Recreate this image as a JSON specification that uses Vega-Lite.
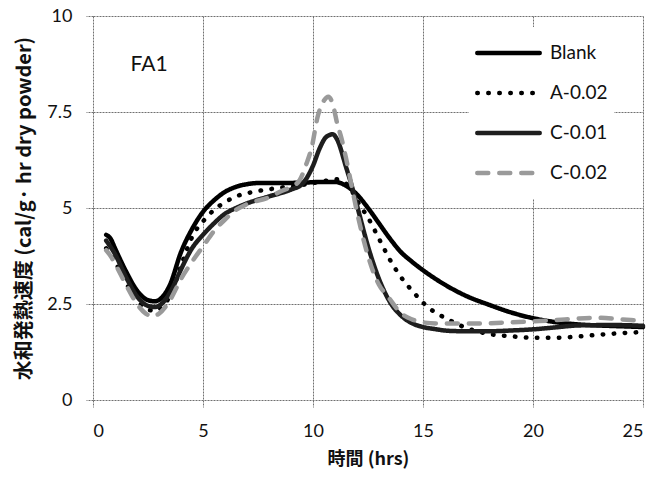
{
  "$schema": "https://vega.github.io/schema/vega-lite/v6.json",
  "width": 550,
  "height": 384,
  "autosize": {"type": "none"},
  "padding": {"left": 93, "top": 16, "right": 22, "bottom": 78},
  "background": "white",
  "config": {
    "view": {"stroke": null},
    "axis": {
      "grid": true,
      "gridColor": "#707070",
      "gridWidth": 1,
      "gridDash": [2, 1],
      "domain": false,
      "ticks": true,
      "tickColor": "#707070",
      "tickDash": [2, 1],
      "tickSize": 7,
      "labelFont": "Lato",
      "labelFontSize": 18,
      "labelColor": "#111111",
      "titleFont": "Noto Sans CJK JP",
      "titleFontWeight": "bold",
      "titleColor": "#111111"
    }
  },
  "layer": [
    {
      "data": {
        "values": [
          {"series": "Blank", "time": 0.6, "rate": 4.3},
          {"series": "Blank", "time": 0.8, "rate": 4.2},
          {"series": "Blank", "time": 1.0, "rate": 3.95},
          {"series": "Blank", "time": 1.5, "rate": 3.35},
          {"series": "Blank", "time": 2.0, "rate": 2.85},
          {"series": "Blank", "time": 2.5, "rate": 2.6},
          {"series": "Blank", "time": 2.8, "rate": 2.57},
          {"series": "Blank", "time": 3.1, "rate": 2.65},
          {"series": "Blank", "time": 3.5, "rate": 3.0},
          {"series": "Blank", "time": 4.0, "rate": 3.85},
          {"series": "Blank", "time": 4.5, "rate": 4.45},
          {"series": "Blank", "time": 5.0, "rate": 4.9},
          {"series": "Blank", "time": 5.5, "rate": 5.2},
          {"series": "Blank", "time": 6.0, "rate": 5.42},
          {"series": "Blank", "time": 6.5, "rate": 5.55},
          {"series": "Blank", "time": 7.0, "rate": 5.62},
          {"series": "Blank", "time": 7.5, "rate": 5.65},
          {"series": "Blank", "time": 8.5, "rate": 5.65},
          {"series": "Blank", "time": 9.5, "rate": 5.66},
          {"series": "Blank", "time": 10.5, "rate": 5.68},
          {"series": "Blank", "time": 11.0, "rate": 5.68},
          {"series": "Blank", "time": 11.5, "rate": 5.58},
          {"series": "Blank", "time": 12.0, "rate": 5.35},
          {"series": "Blank", "time": 12.5, "rate": 5.0},
          {"series": "Blank", "time": 13.0, "rate": 4.6},
          {"series": "Blank", "time": 13.5, "rate": 4.2},
          {"series": "Blank", "time": 14.0, "rate": 3.85},
          {"series": "Blank", "time": 14.5, "rate": 3.6},
          {"series": "Blank", "time": 15.0, "rate": 3.38},
          {"series": "Blank", "time": 16.0, "rate": 3.0},
          {"series": "Blank", "time": 17.0, "rate": 2.7},
          {"series": "Blank", "time": 18.0, "rate": 2.48},
          {"series": "Blank", "time": 19.0, "rate": 2.28},
          {"series": "Blank", "time": 20.0, "rate": 2.13},
          {"series": "Blank", "time": 21.0, "rate": 2.03},
          {"series": "Blank", "time": 22.0, "rate": 1.97},
          {"series": "Blank", "time": 23.0, "rate": 1.94},
          {"series": "Blank", "time": 24.0, "rate": 1.92},
          {"series": "Blank", "time": 25.0, "rate": 1.9},

          {"series": "A-0.02", "time": 0.6, "rate": 3.95},
          {"series": "A-0.02", "time": 1.0, "rate": 3.6},
          {"series": "A-0.02", "time": 1.5, "rate": 3.05},
          {"series": "A-0.02", "time": 2.0, "rate": 2.6},
          {"series": "A-0.02", "time": 2.5, "rate": 2.36},
          {"series": "A-0.02", "time": 2.8, "rate": 2.32},
          {"series": "A-0.02", "time": 3.2, "rate": 2.45},
          {"series": "A-0.02", "time": 3.6, "rate": 2.85},
          {"series": "A-0.02", "time": 4.0, "rate": 3.5},
          {"series": "A-0.02", "time": 4.6, "rate": 4.35},
          {"series": "A-0.02", "time": 5.0, "rate": 4.65},
          {"series": "A-0.02", "time": 5.5, "rate": 4.95},
          {"series": "A-0.02", "time": 6.0, "rate": 5.15},
          {"series": "A-0.02", "time": 6.5, "rate": 5.3},
          {"series": "A-0.02", "time": 7.3, "rate": 5.42},
          {"series": "A-0.02", "time": 8.4, "rate": 5.52},
          {"series": "A-0.02", "time": 9.5, "rate": 5.6},
          {"series": "A-0.02", "time": 10.5, "rate": 5.7},
          {"series": "A-0.02", "time": 11.0, "rate": 5.75},
          {"series": "A-0.02", "time": 11.3, "rate": 5.72},
          {"series": "A-0.02", "time": 11.7, "rate": 5.5},
          {"series": "A-0.02", "time": 12.1, "rate": 5.1},
          {"series": "A-0.02", "time": 12.5, "rate": 4.75},
          {"series": "A-0.02", "time": 13.0, "rate": 4.2},
          {"series": "A-0.02", "time": 13.5, "rate": 3.65},
          {"series": "A-0.02", "time": 14.0, "rate": 3.2},
          {"series": "A-0.02", "time": 14.5, "rate": 2.85},
          {"series": "A-0.02", "time": 15.2, "rate": 2.43},
          {"series": "A-0.02", "time": 16.2, "rate": 2.08},
          {"series": "A-0.02", "time": 17.0, "rate": 1.87},
          {"series": "A-0.02", "time": 18.0, "rate": 1.72},
          {"series": "A-0.02", "time": 19.0, "rate": 1.66},
          {"series": "A-0.02", "time": 20.0, "rate": 1.62},
          {"series": "A-0.02", "time": 21.0, "rate": 1.62},
          {"series": "A-0.02", "time": 22.0, "rate": 1.65},
          {"series": "A-0.02", "time": 23.0, "rate": 1.7},
          {"series": "A-0.02", "time": 24.0, "rate": 1.74},
          {"series": "A-0.02", "time": 25.0, "rate": 1.77},

          {"series": "C-0.01", "time": 0.6, "rate": 4.15},
          {"series": "C-0.01", "time": 1.0, "rate": 3.8},
          {"series": "C-0.01", "time": 1.5, "rate": 3.2},
          {"series": "C-0.01", "time": 2.0, "rate": 2.7},
          {"series": "C-0.01", "time": 2.5, "rate": 2.45},
          {"series": "C-0.01", "time": 2.8, "rate": 2.42},
          {"series": "C-0.01", "time": 3.2, "rate": 2.55},
          {"series": "C-0.01", "time": 3.6, "rate": 2.9},
          {"series": "C-0.01", "time": 4.0, "rate": 3.4},
          {"series": "C-0.01", "time": 4.5, "rate": 3.95},
          {"series": "C-0.01", "time": 5.0, "rate": 4.3},
          {"series": "C-0.01", "time": 5.5, "rate": 4.6},
          {"series": "C-0.01", "time": 6.0, "rate": 4.85},
          {"series": "C-0.01", "time": 6.5, "rate": 5.0},
          {"series": "C-0.01", "time": 7.0, "rate": 5.12},
          {"series": "C-0.01", "time": 8.0, "rate": 5.3},
          {"series": "C-0.01", "time": 9.0, "rate": 5.48},
          {"series": "C-0.01", "time": 9.5, "rate": 5.62},
          {"series": "C-0.01", "time": 10.0, "rate": 6.1},
          {"series": "C-0.01", "time": 10.3, "rate": 6.55},
          {"series": "C-0.01", "time": 10.6, "rate": 6.85},
          {"series": "C-0.01", "time": 10.9, "rate": 6.92},
          {"series": "C-0.01", "time": 11.1, "rate": 6.78},
          {"series": "C-0.01", "time": 11.5, "rate": 6.07},
          {"series": "C-0.01", "time": 11.8, "rate": 5.5},
          {"series": "C-0.01", "time": 12.1, "rate": 4.85},
          {"series": "C-0.01", "time": 12.5, "rate": 4.0},
          {"series": "C-0.01", "time": 13.0, "rate": 3.15},
          {"series": "C-0.01", "time": 13.5, "rate": 2.55},
          {"series": "C-0.01", "time": 14.0, "rate": 2.2},
          {"series": "C-0.01", "time": 14.5, "rate": 2.0},
          {"series": "C-0.01", "time": 15.0, "rate": 1.9},
          {"series": "C-0.01", "time": 15.5, "rate": 1.85},
          {"series": "C-0.01", "time": 16.2, "rate": 1.8},
          {"series": "C-0.01", "time": 17.0, "rate": 1.79},
          {"series": "C-0.01", "time": 18.0, "rate": 1.79},
          {"series": "C-0.01", "time": 19.0, "rate": 1.81},
          {"series": "C-0.01", "time": 20.0, "rate": 1.84},
          {"series": "C-0.01", "time": 21.0, "rate": 1.89},
          {"series": "C-0.01", "time": 22.0, "rate": 1.94},
          {"series": "C-0.01", "time": 23.0, "rate": 1.95},
          {"series": "C-0.01", "time": 24.0, "rate": 1.95},
          {"series": "C-0.01", "time": 25.0, "rate": 1.93},

          {"series": "C-0.02", "time": 0.6, "rate": 3.9},
          {"series": "C-0.02", "time": 0.8, "rate": 3.75},
          {"series": "C-0.02", "time": 1.0, "rate": 3.55},
          {"series": "C-0.02", "time": 1.5, "rate": 3.0},
          {"series": "C-0.02", "time": 2.0, "rate": 2.5},
          {"series": "C-0.02", "time": 2.4, "rate": 2.25},
          {"series": "C-0.02", "time": 2.7, "rate": 2.18},
          {"series": "C-0.02", "time": 3.0, "rate": 2.25},
          {"series": "C-0.02", "time": 3.5, "rate": 2.6},
          {"series": "C-0.02", "time": 4.0, "rate": 3.15},
          {"series": "C-0.02", "time": 4.5, "rate": 3.6},
          {"series": "C-0.02", "time": 5.0, "rate": 4.0},
          {"series": "C-0.02", "time": 5.5, "rate": 4.4},
          {"series": "C-0.02", "time": 6.0, "rate": 4.7},
          {"series": "C-0.02", "time": 6.5, "rate": 4.95},
          {"series": "C-0.02", "time": 7.0, "rate": 5.1},
          {"series": "C-0.02", "time": 8.0, "rate": 5.28},
          {"series": "C-0.02", "time": 8.6, "rate": 5.45},
          {"series": "C-0.02", "time": 9.0, "rate": 5.55},
          {"series": "C-0.02", "time": 9.4, "rate": 5.73},
          {"series": "C-0.02", "time": 9.7, "rate": 6.15},
          {"series": "C-0.02", "time": 9.95, "rate": 6.6},
          {"series": "C-0.02", "time": 10.2, "rate": 7.35},
          {"series": "C-0.02", "time": 10.5, "rate": 7.8},
          {"series": "C-0.02", "time": 10.7, "rate": 7.9},
          {"series": "C-0.02", "time": 10.9, "rate": 7.7},
          {"series": "C-0.02", "time": 11.1, "rate": 7.2},
          {"series": "C-0.02", "time": 11.3, "rate": 6.8},
          {"series": "C-0.02", "time": 11.5, "rate": 6.3},
          {"series": "C-0.02", "time": 11.8, "rate": 5.45},
          {"series": "C-0.02", "time": 12.0, "rate": 4.9},
          {"series": "C-0.02", "time": 12.3, "rate": 4.17},
          {"series": "C-0.02", "time": 12.7, "rate": 3.4},
          {"series": "C-0.02", "time": 13.0, "rate": 3.0},
          {"series": "C-0.02", "time": 13.4, "rate": 2.7},
          {"series": "C-0.02", "time": 14.0, "rate": 2.26},
          {"series": "C-0.02", "time": 14.5, "rate": 2.1},
          {"series": "C-0.02", "time": 15.0, "rate": 2.02},
          {"series": "C-0.02", "time": 16.0, "rate": 1.99},
          {"series": "C-0.02", "time": 17.0, "rate": 1.99},
          {"series": "C-0.02", "time": 18.0, "rate": 2.0},
          {"series": "C-0.02", "time": 19.0, "rate": 2.02},
          {"series": "C-0.02", "time": 20.0, "rate": 2.05},
          {"series": "C-0.02", "time": 21.0, "rate": 2.08},
          {"series": "C-0.02", "time": 22.0, "rate": 2.12},
          {"series": "C-0.02", "time": 23.0, "rate": 2.14},
          {"series": "C-0.02", "time": 24.0, "rate": 2.1},
          {"series": "C-0.02", "time": 25.0, "rate": 2.06}
        ]
      },
      "mark": {
        "type": "line",
        "interpolate": "monotone",
        "strokeWidth": 4.5,
        "strokeCap": "round",
        "strokeJoin": "round"
      },
      "encoding": {
        "x": {
          "field": "time",
          "type": "quantitative",
          "scale": {"domain": [0, 25], "nice": false},
          "axis": {
            "values": [0, 5, 10, 15, 20, 25],
            "title": "時間 (hrs)",
            "titleFontSize": 18,
            "titlePadding": 10,
            "labelPadding": 15
          }
        },
        "y": {
          "field": "rate",
          "type": "quantitative",
          "scale": {"domain": [0, 10], "nice": false},
          "axis": {
            "values": [0, 2.5, 5, 7.5, 10],
            "labelExpr": "datum.value",
            "title": "水和発熱速度 (cal/g· hr dry powder)",
            "titleFontSize": 20,
            "titlePadding": 12,
            "labelPadding": 14
          }
        },
        "color": {
          "field": "series",
          "type": "nominal",
          "scale": {
            "domain": ["Blank", "A-0.02", "C-0.01", "C-0.02"],
            "range": ["#000000", "#000000", "#1e1e1e", "#9a9a9a"]
          },
          "legend": {
            "title": null,
            "orient": "none",
            "legendX": 376,
            "legendY": 11,
            "padding": 6,
            "fillColor": "white",
            "symbolType": "stroke",
            "symbolSize": 3900,
            "symbolStrokeWidth": 4.5,
            "clipHeight": 40,
            "rowPadding": 0,
            "labelFont": "Lato",
            "labelFontSize": 19,
            "labelColor": "#111111",
            "labelOffset": 8,
            "encode": {"symbols": {"update": {"strokeCap": {"value": "round"}}}}
          }
        },
        "strokeDash": {
          "field": "series",
          "type": "nominal",
          "scale": {
            "domain": ["Blank", "A-0.02", "C-0.01", "C-0.02"],
            "range": [[1, 0], [0.5, 10.5], [1, 0], [11, 11]]
          },
          "legend": {
            "title": null,
            "orient": "none",
            "legendX": 376,
            "legendY": 11,
            "padding": 6,
            "fillColor": "white",
            "symbolType": "stroke",
            "symbolSize": 3900,
            "symbolStrokeWidth": 4.5,
            "clipHeight": 40,
            "rowPadding": 0,
            "labelFont": "Lato",
            "labelFontSize": 19,
            "labelColor": "#111111",
            "labelOffset": 8,
            "encode": {"symbols": {"update": {"strokeCap": {"value": "round"}}}}
          }
        }
      }
    },
    {
      "data": {"values": [{"label": "FA1", "time": 2.55, "rate": 8.72}]},
      "mark": {"type": "text", "font": "Lato", "fontSize": 21, "align": "center", "baseline": "middle", "color": "#111111"},
      "encoding": {
        "x": {"field": "time", "type": "quantitative"},
        "y": {"field": "rate", "type": "quantitative"},
        "text": {"field": "label"}
      }
    }
  ]
}
